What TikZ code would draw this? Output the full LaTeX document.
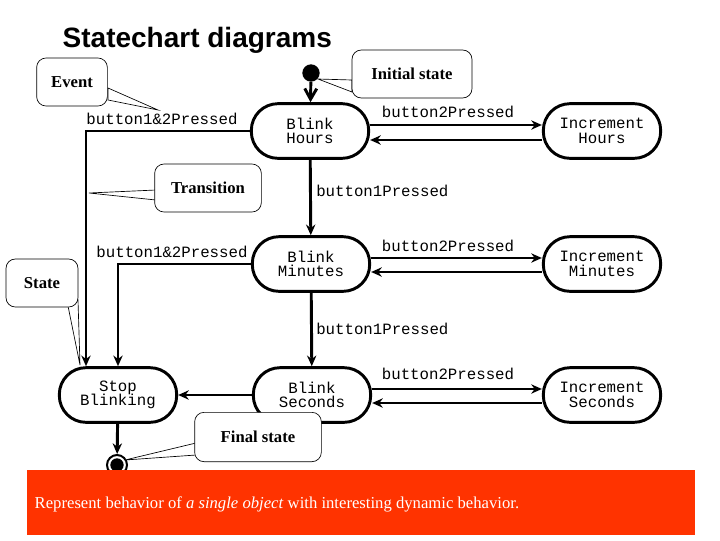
\documentclass[tikz,border=0pt]{standalone}
\usepackage{fontspec}
\setmainfont{Liberation Serif}
\setsansfont{Liberation Sans}
\setmonofont{Liberation Mono}
\usepackage{xcolor}
\usetikzlibrary{arrows.meta}
\definecolor{barred}{RGB}{255,51,0}
\tikzset{
  state/.style={draw, line width=2.2pt, rounded corners=20pt, minimum width=88pt, minimum height=41pt, align=center, font=\fontsize{11.8}{11}\ttfamily, fill=white},
  trans/.style={line width=2.2pt, -{Stealth[length=8pt,width=7pt]}},
  evt/.style={font=\fontsize{11.8}{12}\ttfamily, inner sep=0.75pt},
  note/.style={draw, line width=0.5pt, rounded corners=7pt, fill=white, font=\fontsize{12.5}{14}\selectfont\bfseries},
  pointer/.style={draw, line width=0.5pt, fill=white}
}
\begin{document}
\begin{tikzpicture}[x=0.75pt,y=0.75pt,yscale=-1,xscale=1]
\useasboundingbox (0,0) rectangle (720,540);

% title
\node (title) [anchor=west, font=\fontsize{21}{24}\sffamily\bfseries] at (58,40) {Statechart diagrams};

% states
\node (hours) [state] at (310,131) {Blink\\Hours};
\node (minutes) [state] at (311,264) {Blink\\Minutes};
\node (seconds) [state] at (312,395) {Blink\\Seconds};
\node (incH) [state] at (602,131) {Increment\\Hours};
\node (incM) [state] at (602,264) {Increment\\Minutes};
\node (incS) [state] at (602,395) {Increment\\Seconds};
\node (stop) [state] at (118,395) {Stop\\Blinking};

% initial and final
\node (init) [circle, fill, inner sep=0pt, minimum size=13pt] at (311,73) {};
\node (final) [circle, draw, line width=1.5pt, inner sep=0pt, minimum size=15pt] at (117,465) {};
\fill (final) circle (5pt);

% transitions
\draw [line width=2.2pt, -{Straight Barb[length=8pt,width=9pt]}] (init) -- (hours);
\draw [trans] (hours.east |- 0,125) -- (incH.west |- 0,125);
\draw [trans] (incH.west |- 0,140) -- (hours.east |- 0,140);
\draw [trans] (minutes.east |- 0,258) -- (incM.west |- 0,258);
\draw [trans] (incM.west |- 0,272) -- (minutes.east |- 0,272);
\draw [trans] (seconds.east |- 0,389) -- (incS.west |- 0,389);
\draw [trans] (incS.west |- 0,403) -- (seconds.east |- 0,403);
\draw [trans] (hours) -- (minutes);
\draw [trans] (minutes) -- (seconds);
\draw [trans] (seconds) -- (stop);
\draw [trans] (hours.west) -| (stop.north -| 86,0);
\draw [trans] (minutes.west) -| (stop.north);
\draw [trans] (stop) -- (final);

% events
\node (e1) [evt] at (162,119) {button1\&2Pressed};
\node (e2) [evt] at (172,252) {button1\&2Pressed};
\node (e3) [evt] at (448,112) {button2Pressed};
\node (e4) [evt] at (448,246) {button2Pressed};
\node (e5) [evt] at (448,374) {button2Pressed};
\node (e6) [evt, anchor=west] at (315,191) {button1Pressed};
\node (e7) [evt, anchor=west] at (315,329) {button1Pressed};

% callouts
\coordinate (tipEvent) at (158,110);
\coordinate (tipInit) at (318,79);
\coordinate (tipTrans) at (89,193);
\coordinate (tipState) at (80,365);
\coordinate (tipFinal) at (125,460);
\draw [pointer] (108,88) -- (tipEvent) -- (108,100) -- cycle;
\node (cEvent) [note, minimum width=53pt, minimum height=36pt] at (72,82) {Event};
\draw [pointer] (352,80) -- (tipInit) -- (352,92) -- cycle;
\node (cInit) [note, minimum width=90pt, minimum height=36pt] at (412,74) {Initial state};
\draw [pointer] (156,190) -- (tipTrans) -- (156,200) -- cycle;
\node (cTrans) [note, minimum width=80pt, minimum height=36pt] at (208,188) {Transition};
\draw [pointer] (68,306) -- (tipState) -- (78,300) -- cycle;
\node (cState) [note, minimum width=54pt, minimum height=36pt] at (42,283) {State};
\draw [pointer] (196,443) -- (tipFinal) -- (196,455) -- cycle;
\node (cFinal) [note, minimum width=95pt, minimum height=37pt] at (258,437) {Final state};

% banner
\fill [barred] (27,470) rectangle (695,535);
\node (banner) [anchor=west, text=white, font=\fontsize{12.5}{14}\selectfont] at (30,504) {Represent behavior of \textit{a single object} with interesting dynamic behavior.};
\end{tikzpicture}
\end{document}
